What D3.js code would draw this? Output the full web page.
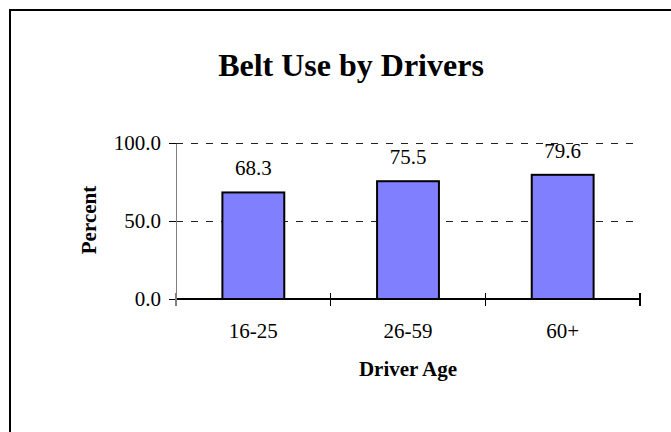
<!DOCTYPE html>
<html>
<head>
<meta charset="utf-8">
<script src="https://cdn.jsdelivr.net/npm/d3@7"></script>
<style>
    body { margin: 0; background: white; }
    text { font-family: "Liberation Serif", "Times New Roman", serif; }
    line, path.domain { shape-rendering: crispEdges; }
</style>
</head>
<body>
<script>
let categories = ["16-25", "26-59", "60+"];
let beltUse = [68.3, 75.5, 79.6];
let yTicks = [0, 50, 100];
let chartTitle = "Belt Use by Drivers";
let xTitle = "Driver Age";
let yTitle = "Percent";

let chartHelper = (function () {
    let svg = {};

    function init() {
        svg = d3.select("body").append("svg")
            .attr("width", 671)
            .attr("height", 432);

        // outer frame, runs off the right and bottom edges
        svg.append("rect")
            .attr("x", 10)
            .attr("y", 10)
            .attr("width", 700)
            .attr("height", 500)
            .style("fill", "white")
            .style("stroke", "black")
            .style("stroke-width", 2);
    }

    function draw() {
        let x = d3.scaleBand()
            .domain(categories)
            .range([176, 640])
            .paddingInner(0.6)
            .paddingOuter(0.3);

        let y = d3.scaleLinear()
            .domain([0, 100])
            .range([299, 143]);

        // dashed gridlines
        svg.selectAll("line.grid")
            .data(yTicks.filter(function (d) { return d > 0; }))
            .enter()
            .append("line")
            .attr("class", "grid")
            .attr("x1", 176)
            .attr("x2", 640)
            .attr("y1", function (d) { return y(d); })
            .attr("y2", function (d) { return y(d); })
            .style("stroke", "#222")
            .style("stroke-width", 1)
            .style("stroke-dasharray", "7,8");

        // y axis
        let yAxis = svg.append("g")
            .attr("transform", "translate(176,0)")
            .call(d3.axisLeft(y)
                .tickValues(yTicks)
                .tickFormat(d3.format(".1f"))
                .tickSize(7)
                .tickSizeOuter(0)
                .tickPadding(8));
        yAxis.select(".domain").style("stroke", "#808080").style("stroke-width", 1.5);
        yAxis.selectAll(".tick line").style("stroke", "black");
        yAxis.selectAll("text")
            .style("font-size", "21px")
            .style("fill", "black");

        // bars
        svg.selectAll("rect.bar")
            .data(beltUse)
            .enter()
            .append("rect")
            .attr("class", "bar")
            .attr("x", function (d, i) { return x(categories[i]); })
            .attr("y", function (d) { return y(d); })
            .attr("width", x.bandwidth())
            .attr("height", function (d) { return y(0) - y(d); })
            .style("fill", "#8080ff")
            .style("stroke", "black")
            .style("stroke-width", 2);

        // value labels
        svg.selectAll("text.value")
            .data(beltUse)
            .enter()
            .append("text")
            .attr("class", "value")
            .attr("x", function (d, i) { return x(categories[i]) + x.bandwidth() / 2; })
            .attr("y", function (d) { return y(d) - 17; })
            .attr("text-anchor", "middle")
            .style("font-size", "21px")
            .text(function (d) { return d.toFixed(1); });

        // x axis line with crossing ticks between categories
        svg.append("line")
            .attr("x1", 176)
            .attr("x2", 640)
            .attr("y1", y(0))
            .attr("y2", y(0))
            .style("stroke", "black")
            .style("stroke-width", 1.2);

        let bounds = d3.range(categories.length + 1).map(function (i) {
            return x.range()[0] + i * x.step();
        });
        svg.selectAll("line.xtick")
            .data(bounds)
            .enter()
            .append("line")
            .attr("class", "xtick")
            .attr("x1", function (d) { return d; })
            .attr("x2", function (d) { return d; })
            .attr("y1", y(0) - 6)
            .attr("y2", y(0) + 7)
            .style("stroke", function (d, i) { return i === 0 ? "#808080" : "black"; })
            .style("stroke-width", 1.2);

        svg.selectAll("text.cat")
            .data(categories)
            .enter()
            .append("text")
            .attr("class", "cat")
            .attr("x", function (d) { return x(d) + x.bandwidth() / 2; })
            .attr("y", 338)
            .attr("text-anchor", "middle")
            .style("font-size", "21px")
            .text(function (d) { return d; });

        // titles
        svg.append("text")
            .attr("x", 351)
            .attr("y", 76)
            .attr("text-anchor", "middle")
            .style("font-size", "32px")
            .style("font-weight", "bold")
            .text(chartTitle);

        svg.append("text")
            .attr("x", 408)
            .attr("y", 376)
            .attr("text-anchor", "middle")
            .style("font-size", "21px")
            .style("font-weight", "bold")
            .text(xTitle);

        svg.append("text")
            .attr("transform", "translate(96,220) rotate(-90)")
            .attr("text-anchor", "middle")
            .style("font-size", "21px")
            .style("font-weight", "bold")
            .text(yTitle);
    }

    return {
        init: init,
        draw: draw
    }
})();

chartHelper.init();
chartHelper.draw();
</script>
</body>
</html>
